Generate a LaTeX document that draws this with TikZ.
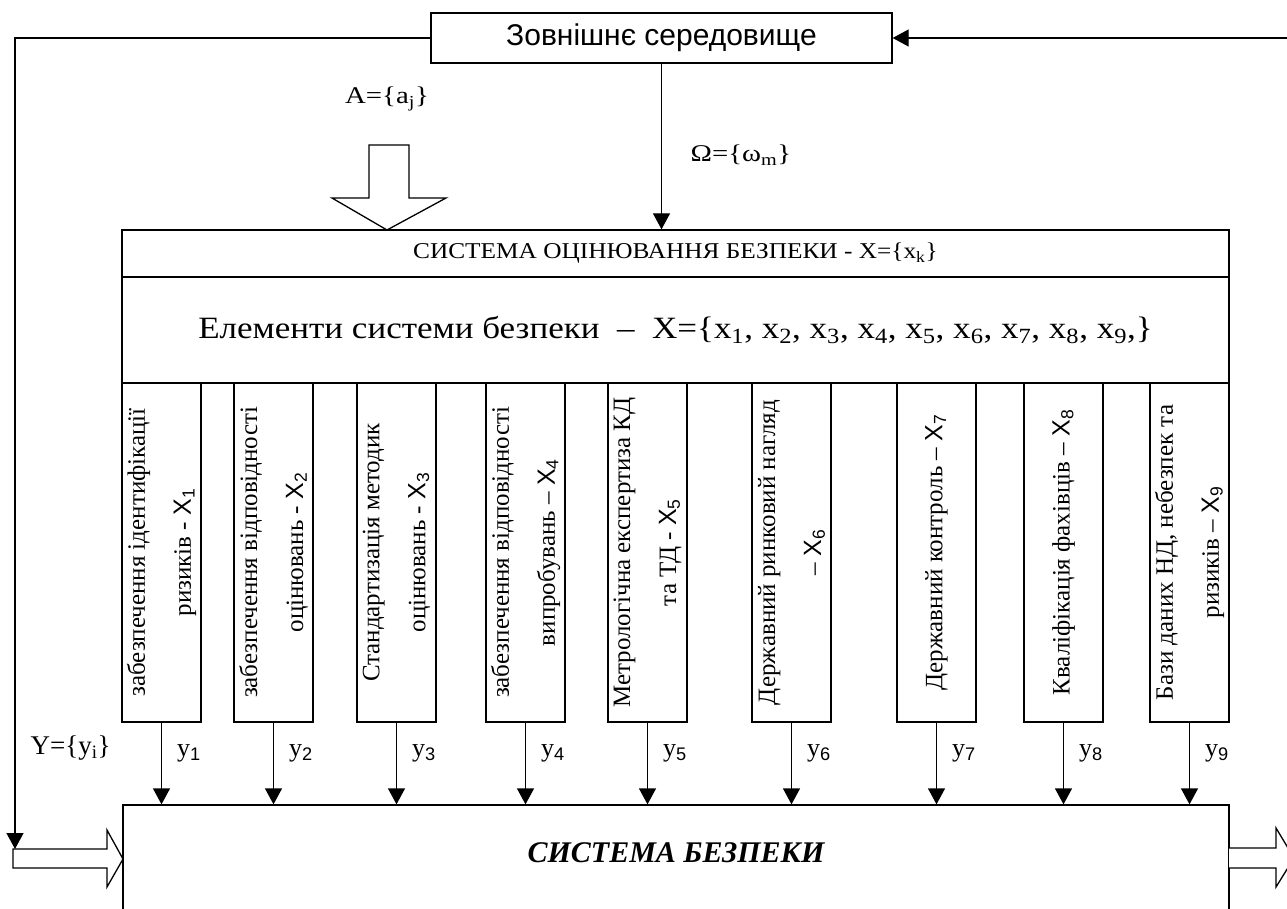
\documentclass[tikz,border=0pt]{standalone}
\usepackage{graphicx}
\usepackage{fontspec}
\setmainfont{Liberation Serif}
\newfontfamily\arialfont{Liberation Sans}
\usetikzlibrary{arrows.meta}

% sans-serif index used in the element captions
\newcommand{\xs}[1]{{\arialfont X\textsubscript{#1}}}
% horizontally widened serif text
\newcommand{\wide}[2]{\scalebox{#1}[1]{#2}}

\begin{document}
\begin{tikzpicture}[x=1pt,y=-1pt,line width=1.3pt,
  box/.style={draw,rectangle,inner sep=0pt},
  elem/.style={box,minimum width=79pt,minimum height=339pt},
  vtxt/.style={rotate=90,align=center,inner sep=0pt,font=\fontsize{25}{46}\selectfont},
  arr/.style={-{Triangle[length=16pt,width=17pt]}},
  hollow/.style={draw,fill=white,line join=miter},
  lab/.style={inner sep=0pt,font=\fontsize{26}{30}\selectfont}]

\useasboundingbox (0,0) rectangle (1287,909);
\clip (0,0) rectangle (1287,909);

% environment
\node[box,minimum width=461pt,minimum height=50pt,
      font=\arialfont\fontsize{30}{36}\selectfont] (env) at (661.5,38) {Зовнішнє середовище};

% evaluation system: header and row of elements
\node[box,minimum width=1107pt,minimum height=47pt,
      font=\fontsize{22.6}{26}\selectfont] (hdr) at (675.5,253.5)
      {\wide{1.12}{СИСТЕМА ОЦІНЮВАННЯ БЕЗПЕКИ - X=\{x\textsubscript{k}\}}};
\node[box,minimum width=1107pt,minimum height=106pt,
      font=\fontsize{31}{36}\selectfont] (row) at (675.5,330)
      {\wide{1.13}{Елементи системи безпеки \ – \ X=\{x\textsubscript{1}, x\textsubscript{2}, x\textsubscript{3}, x\textsubscript{4}, x\textsubscript{5}, x\textsubscript{6}, x\textsubscript{7}, x\textsubscript{8}, x\textsubscript{9},\}}};

% elements of the safety system
\node[elem] (b1) at (161.5,552.5) {};
\node[elem] (b2) at (273.5,552.5) {};
\node[elem] (b3) at (396.5,552.5) {};
\node[elem] (b4) at (525.5,552.5) {};
\node[elem] (b5) at (647.5,552.5) {};
\node[elem] (b6) at (791.5,552.5) {};
\node[elem] (b7) at (936.5,552.5) {};
\node[elem] (b8) at (1063.5,552.5) {};
\node[elem] (b9) at (1189.5,552.5) {};

\node[vtxt] (t1) at (b1.center) {забезпечення ідентифікації\\ризиків - \xs{1}};
\node[vtxt] (t2) at (b2.center) {забезпечення відповідності\\оцінювань - \xs{2}};
\node[vtxt] (t3) at (b3.center) {Стандартизація методик\\оцінювань - \xs{3}};
\node[vtxt] (t4) at (b4.center) {забезпечення відповідності\\випробувань – \xs{4}};
\node[vtxt] (t5) at (b5.center) {Метрологічна експертиза КД\\та ТД - \xs{5}};
\node[vtxt] (t6) at (b6.center) {Державний ринковий нагляд\\– \xs{6}};
\node[vtxt] (t7) at (b7.center) {Державний контроль – \xs{7}};
\node[vtxt] (t8) at (b8.center) {Кваліфікація фахівців – \xs{8}};
\node[vtxt] (t9) at (b9.center) {Бази даних НД, небезпек та\\ризиків – \xs{9}};

% safety system
\node[box,minimum width=1106pt,minimum height=200pt] (sys) at (676,905) {};
\node[inner sep=0pt,font=\bfseries\itshape\fontsize{30}{36}\selectfont] (sysT) at (676,853) {СИСТЕМА БЕЗПЕКИ};

% input of resources A
\draw[hollow] (369,145) -- (409,145) -- (409,198) -- (446,198) -- (387,230)
  -- (332,198) -- (369,198) -- cycle;
\node[lab,font=\fontsize{24}{28}\selectfont] (A) at (387,99) {\wide{1.2}{A=\{a\textsubscript{j}\}}};

% influence of the environment
\draw[arr] (env.south) -- (env.south |- hdr.north);
\node[lab,font=\fontsize{24}{28}\selectfont,anchor=west] (Om) at (690,155) {\wide{1.2}{Ω=\{ω\textsubscript{m}\}}};

% outputs of the elements
\foreach \i in {1,...,9}{
  \draw[arr] (b\i.south) -- (b\i.south |- sys.north);
  \path (b\i.south) ++(15,31) node[lab,anchor=west] (y\i) {y\textsubscript{\arialfont\i}};
}

% feedback loops through the environment
\coordinate (fbL) at (15,849);
\coordinate (fbR) at (1295,38);
\draw[arr] (env.west) -| (fbL);
\draw[arr] (fbR) -- (env.east);
\node[lab,font=\fontsize{27}{30}\selectfont,anchor=west] (Y) at (30,748) {Y=\{y\textsubscript{i}\}};

% flows into and out of the safety system
\draw[hollow] (13,849) -- (107,849) -- (107,830) -- (123,859) -- (107,887)
  -- (107,868) -- (13,868) -- cycle;
\draw[hollow] (1229,848) -- (1276,848) -- (1276,828) -- (1294,858) -- (1276,887)
  -- (1276,868) -- (1229,868);
\end{tikzpicture}
\end{document}
